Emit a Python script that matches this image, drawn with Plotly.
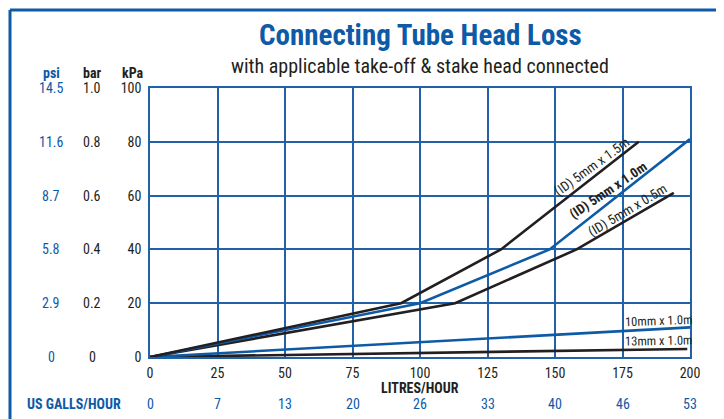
import plotly.graph_objects as go

# ---- data ----
litres_5mm_15 = [0, 93, 130, 181]
kpa_5mm_15 = [0, 20, 40, 80]
litres_5mm_10 = [0, 100, 148, 200]
kpa_5mm_10 = [0, 20, 40, 81]
litres_5mm_05 = [0, 113, 158, 194]
kpa_5mm_05 = [0, 20, 40, 61]
litres_10mm = [0, 200]
kpa_10mm = [0, 11]
litres_13mm = [0, 199]
kpa_13mm = [0, 3]

x_ticks = [0, 25, 50, 75, 100, 125, 150, 175, 200]
gallons = ["0", "7", "13", "20", "26", "33", "40", "46", "53"]
kpa_ticks = [0, 20, 40, 60, 80, 100]
bar_labels = ["0", "0.2", "0.4", "0.6", "0.8", "1.0"]
psi_labels = ["0", "2.9", "5.8", "8.7", "11.6", "14.5"]

BLUE = "#0d5aa7"
GRID = "#2260a8"
DARK = "#231f20"
FONT = "Roboto Condensed, DejaVu Sans Condensed, sans-serif"

# plot area in page pixels: x 150..690, y 88..357 (page has an 8px body margin)
PX0, PX1, PY0, PY1 = 150, 690, 88, 357


def px(xp):
    return (xp - PX0) / (PX1 - PX0)


def py(yp):
    return (PY1 - yp) / (PY1 - PY0)


fig = go.Figure()
series = [
    (litres_13mm, kpa_13mm, DARK),
    (litres_10mm, kpa_10mm, BLUE),
    (litres_5mm_05, kpa_5mm_05, DARK),
    (litres_5mm_10, kpa_5mm_10, BLUE),
    (litres_5mm_15, kpa_5mm_15, DARK),
]
for xs, ys, c in series:
    fig.add_trace(go.Scatter(x=xs, y=ys, mode="lines",
                             line=dict(color=c, width=2.6), showlegend=False,
                             cliponaxis=False, hoverinfo="skip"))

ann = []


def A(**kw):
    d = dict(showarrow=False, xanchor="center", yanchor="middle")
    d.update(kw)
    ann.append(d)


# line labels
labels = [
    ("(ID) 5mm x 1.5m", 163.7, 71.0, -36, 13.5),
    ("<b>(ID) 5mm x 1.0m</b>", 169.6, 62.1, -34, 13.5),
    ("(ID) 5mm x 0.5m", 176.7, 54.6, -31, 13.5),
    ("10mm x 1.0m", 188.5, 13.75, -2, 12.5),
    ("13mm x 1.0m", 188.5, 5.95, -1, 12.5),
]
for t, x, y, a, s in labels:
    A(text=t, x=x, y=y, xref="x", yref="y", textangle=a,
      font=dict(family=FONT, size=s, color=DARK))

# psi / bar columns
for v, b, p in zip(kpa_ticks, bar_labels, psi_labels):
    A(text=b, x=px(92), y=v, xref="paper", yref="y",
      font=dict(family=FONT, size=14, color=DARK))
    A(text=p, x=px(51), y=v, xref="paper", yref="y",
      font=dict(family=FONT, size=14, color=BLUE))
# headers
A(text="<b>psi</b>", x=px(51), y=py(73), xref="paper", yref="paper",
  font=dict(family=FONT, size=14, color=BLUE))
A(text="<b>bar</b>", x=px(92), y=py(73), xref="paper", yref="paper",
  font=dict(family=FONT, size=14, color=DARK))
A(text="<b>kPa</b>", x=px(133), y=py(73), xref="paper", yref="paper",
  font=dict(family=FONT, size=14, color=DARK))
# gallons row
for xv, g in zip(x_ticks, gallons):
    A(text=g, x=xv, y=py(404), xref="x", yref="paper",
      font=dict(family=FONT, size=14, color=BLUE))
A(text="<b>US GALLS/HOUR</b>", x=px(74), y=py(404), xref="paper", yref="paper",
  font=dict(family=FONT, size=14, color=BLUE))
A(text="<b>LITRES/HOUR</b>", x=100, y=py(388), xref="x", yref="paper",
  font=dict(family=FONT, size=14, color=DARK))
# title & subtitle
A(text="<b>Connecting Tube Head Loss</b>", x=px(420), y=py(35), xref="paper",
  yref="paper", font=dict(family=FONT, size=29, color=BLUE))
A(text="with applicable take-off &amp; stake head connected", x=px(420), y=py(66),
  xref="paper", yref="paper", font=dict(family=FONT, size=20, color=DARK))

fig.update_layout(
    width=716, height=411,
    margin=dict(l=PX0 - 8, r=716 - (PX1 - 8), t=PY0 - 8, b=411 - (PY1 - 8)),
    paper_bgcolor="white", plot_bgcolor="white",
    showlegend=False,
    annotations=ann,
    xaxis=dict(range=[0, 200], tickvals=x_ticks, ticks="outside", ticklen=2,
               tickcolor="rgba(0,0,0,0)", showgrid=True, gridcolor=GRID,
               gridwidth=1.5, showline=True, linecolor=GRID, linewidth=1.5,
               mirror=True, zeroline=False, fixedrange=True,
               tickfont=dict(family=FONT, size=14, color=DARK)),
    yaxis=dict(range=[0, 100], tickvals=kpa_ticks, ticks="outside", ticklen=4,
               tickcolor="rgba(0,0,0,0)", showgrid=True, gridcolor=GRID,
               gridwidth=1.5, showline=True, linecolor=GRID, linewidth=1.5,
               mirror=True, zeroline=False, fixedrange=True,
               tickfont=dict(family=FONT, size=14, color=DARK)),
)

# outer frame (top and left edges)
fig.add_shape(type="line", xref="paper", yref="paper",
              x0=px(10), x1=px(740), y0=py(10), y1=py(10),
              line=dict(color=BLUE, width=3))
fig.add_shape(type="line", xref="paper", yref="paper",
              x0=px(10), x1=px(10), y0=py(10), y1=py(430),
              line=dict(color=BLUE, width=3))

fig.write_html("out.html")
